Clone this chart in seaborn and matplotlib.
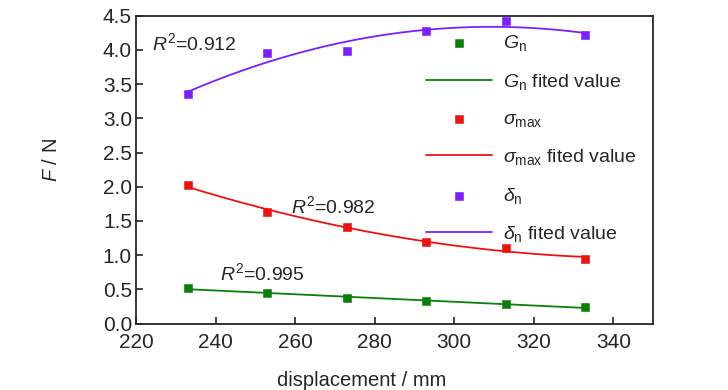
import numpy as np
import pandas as pd
import matplotlib
matplotlib.use("Agg")
import matplotlib.pyplot as plt
import seaborn as sns

displacement = [233, 253, 273, 293, 313, 333]
g_n = [0.52, 0.45, 0.37, 0.33, 0.29, 0.24]
sigma_max = [2.02, 1.63, 1.41, 1.19, 1.10, 0.95]
delta_n = [3.35, 3.95, 3.99, 4.28, 4.42, 4.21]

sns.set_style("ticks")
plt.rcParams["font.family"] = ["Liberation Sans", "DejaVu Sans"]
plt.rcParams["mathtext.fontset"] = "custom"
plt.rcParams["mathtext.rm"] = "Liberation Sans"
plt.rcParams["mathtext.it"] = "Liberation Sans:italic"
plt.rcParams["mathtext.sf"] = "Liberation Sans"

df = pd.DataFrame({"x": displacement, "G": g_n, "S": sigma_max, "D": delta_n})

# fitted curves from the measured points
xs = np.linspace(min(displacement), max(displacement), 200)
fit_g = np.polyval(np.polyfit(df["x"], df["G"], 1), xs)
fit_s = np.polyval(np.polyfit(df["x"], df["S"], 2), xs)
fit_d = np.polyval(np.polyfit(df["x"], df["D"], 2), xs)

fig, ax = plt.subplots(figsize=(7.28, 3.9), dpi=100)

green, red, purple = "#0a7f0a", "#ee1111", "#7f1dff"

sns.lineplot(x=xs, y=fit_g, color=green, lw=1.3, ax=ax, label="$G_\\mathrm{n}$ fited value")
sns.lineplot(x=xs, y=fit_s, color=red, lw=1.3, ax=ax, label="$\\sigma_\\mathrm{max}$ fited value")
sns.lineplot(x=xs, y=fit_d, color=purple, lw=1.3, ax=ax, label="$\\delta_\\mathrm{n}$ fited value")
sns.scatterplot(data=df, x="x", y="G", marker="s", s=28, color=green, edgecolor=green, ax=ax, label="$G_\\mathrm{n}$", zorder=3)
sns.scatterplot(data=df, x="x", y="S", marker="s", s=28, color=red, edgecolor=red, ax=ax, label="$\\sigma_\\mathrm{max}$", zorder=3)
sns.scatterplot(data=df, x="x", y="D", marker="s", s=28, color=purple, edgecolor=purple, ax=ax, label="$\\delta_\\mathrm{n}$", zorder=3)

handles, labels = ax.get_legend_handles_labels()
order = [3, 0, 4, 1, 5, 2]
ax.legend([handles[i] for i in order], [labels[i] for i in order], loc="upper left",
          bbox_to_anchor=(0.546, 0.968), frameon=False, fontsize=14, handlelength=3.4,
          labelspacing=0.95, handletextpad=0.55, borderaxespad=0)

ax.text(224, 4.0, "$R^2$=0.912", fontsize=14)
ax.text(259, 1.62, "$R^2$=0.982", fontsize=14)
ax.text(241, 0.63, "$R^2$=0.995", fontsize=14)

ax.set_xlim(220, 350)
ax.set_ylim(0, 4.5)
ax.set_xticks([220, 240, 260, 280, 300, 320, 340])
ax.set_yticks(np.arange(0, 4.51, 0.5))
ax.yaxis.set_major_formatter(matplotlib.ticker.FormatStrFormatter("%.1f"))
ax.tick_params(direction="in", length=5, width=1.2, labelsize=15)
ax.tick_params(axis="x", pad=7)
ax.tick_params(axis="y", pad=3)
for sp in ax.spines.values():
    sp.set_linewidth(1.3)
    sp.set_visible(True)

ax.set_xlabel("displacement / mm", fontsize=14.5)
ax.set_ylabel("$F$ / N", fontsize=14.5)
ax.xaxis.set_label_coords(0.437, -0.155)
ax.yaxis.set_label_coords(-0.145, 0.53)

fig.subplots_adjust(left=0.187, right=0.897, top=0.96, bottom=0.17)
fig.savefig("out.png", dpi=100)
